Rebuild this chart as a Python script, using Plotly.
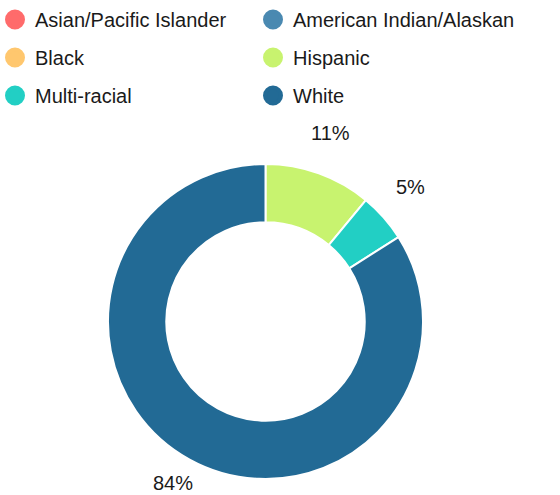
import math
import plotly.graph_objects as go

# Share of students by race/ethnicity (%)
groups = ['Asian/Pacific Islander', 'American Indian/Alaskan', 'Black',
          'Hispanic', 'Multi-racial', 'White']
shares = [0, 0, 0, 11, 5, 84]
colors = ['#ff6b6b', '#4a89b1', '#ffc76e', '#c8f36f', '#22cfc4', '#226a95']

font_family = 'Liberation Sans, Arial, sans-serif'
text_color = '#1a1a1a'
W, H = 560, 495

# donut geometry (pixels)
cx, cy, r_out = 265.5, 321.5, 157.5
r_label = 192.7

fig = go.Figure()

fig.add_trace(go.Pie(
    labels=groups,
    values=shares,
    textinfo='none',
    sort=False,
    direction='clockwise',
    rotation=0,
    hole=0.63,
    marker=dict(colors=colors, line=dict(color='white', width=2)),
    domain=dict(x=[(cx - r_out) / W, (cx + r_out) / W],
                y=[(H - cy - r_out) / H, (H - cy + r_out) / H]),
    showlegend=False,
    hoverinfo='label+percent',
))

# percent labels outside the ring, at each slice's mid angle
total = sum(shares)
cum = 0
for v in shares:
    if v:
        mid = (cum + v / 2) / total * 2 * math.pi
        px = cx + r_label * math.sin(mid)
        py = cy - r_label * math.cos(mid) - 7
        fig.add_annotation(
            x=px / W, y=1 - py / H, xref='paper', yref='paper',
            text=f'{v}%', showarrow=False,
            xanchor='center', yanchor='middle',
            font=dict(size=20, color=text_color, family=font_family),
        )
    cum += v

# Legend entries: two columns, circle markers
for i, (g, c) in enumerate(zip(groups, colors)):
    fig.add_trace(go.Scatter(
        x=[None], y=[None],
        mode='markers',
        marker=dict(size=20, color=c, symbol='circle',
                    line=dict(color=c, width=4)),
        name=g,
        legend='legend' if i % 2 == 0 else 'legend2',
        legendgroup=g,
        hoverinfo='skip',
    ))

legend_style = dict(
    orientation='v',
    yanchor='top',
    y=1,
    xanchor='left',
    traceorder='grouped',
    tracegroupgap=9,
    font=dict(size=20, color=text_color, family=font_family),
    bgcolor='rgba(0,0,0,0)',
    borderwidth=0,
    itemclick=False,
    itemdoubleclick=False,
)

fig.update_layout(
    width=W,
    height=H,
    margin=dict(l=0, r=0, t=0, b=0, autoexpand=False),
    paper_bgcolor='white',
    plot_bgcolor='white',
    font=dict(family=font_family),
    xaxis=dict(visible=False),
    yaxis=dict(visible=False),
    legend=dict(x=-5 / W, **legend_style),
    legend2=dict(x=253 / W, **legend_style),
)

# drop the default page margin so the figure sits at the window's corner
fig.write_html('out.html', config={'displayModeBar': False},
               post_script="document.body.style.margin='0';")
